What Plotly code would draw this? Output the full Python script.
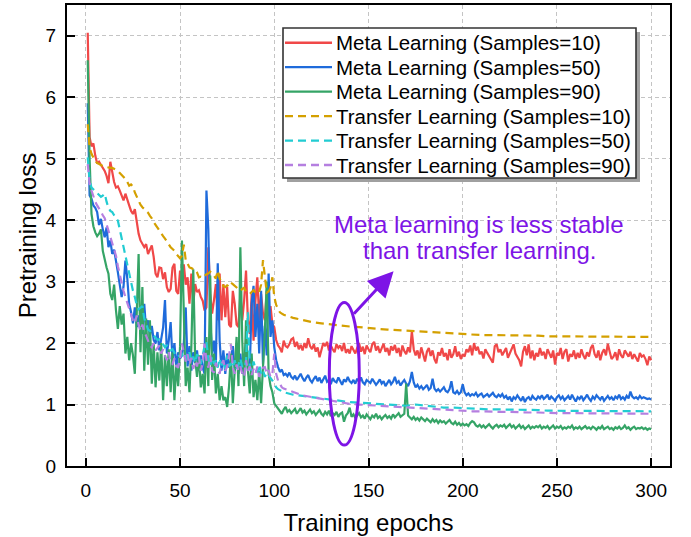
import plotly.graph_objects as go

# ---------------- data ----------------
epochs = list(range(1, 301))
tl_epochs = list(range(1, 105)) + list(range(105, 301, 5))

meta10 = [
    7.05, 5.35, 5.2, 5.25, 5.05, 4.92, 4.95, 4.9, 4.86, 4.8,
    4.72, 4.6, 4.95, 4.75, 4.62, 4.53, 4.55, 4.48, 4.38, 4.32,
    4.43, 4.35, 4.24, 4.15, 4.1, 4.18, 3.99, 3.78, 3.67, 3.6,
    3.56, 3.61, 3.45, 3.52, 3.59, 3.4, 3.13, 3.07, 3.23, 3.22,
    3.04, 3.15, 2.91, 2.83, 2.88, 3.23, 3.29, 2.85, 2.8, 3.18,
    2.91, 3.28, 2.95, 3.07, 2.64, 3.13, 2.64, 2.96, 2.83, 2.86,
    2.75, 2.69, 2.53, 2.58, 3.56, 2.8, 2.48, 2.7, 2.96, 2.37,
    3.13, 2.37, 2.96, 2.42, 2.91, 2.3, 2.26, 2.85, 2.64, 2.3,
    2.26, 2.8, 2.37, 2.69, 3.18, 2.37, 2.15, 2.8, 2.04, 2.69,
    3.07, 2.37, 2.8, 2.48, 2.37, 2.85, 2.48, 2.6, 2.31, 2.26,
    2.05, 1.96, 1.92, 1.85, 2.04, 1.95, 1.93, 1.98, 2.06, 2.08, 1.94, 2.02, 1.9, 1.97, 1.88, 2.0, 1.92, 2.08, 1.95, 1.9,
    1.98, 1.86, 1.93, 1.77, 1.9, 2.0, 1.95, 2.02, 1.88, 1.96, 1.9, 1.85, 1.98, 1.92, 1.96, 1.87, 2.0, 1.84, 1.9, 1.83,
    1.95, 1.88, 1.83, 1.92, 2.0, 1.86, 1.94, 1.82, 1.96, 1.9, 1.85, 1.98, 2.02, 1.88, 1.95, 1.84, 1.93, 1.99, 1.86, 1.92,
    1.8, 1.95, 1.88, 1.97, 1.84, 1.92, 1.78, 1.96, 1.87, 1.82, 1.93, 1.85, 2.19, 1.9, 1.8, 1.88, 1.75, 1.93, 1.82, 1.7,
    1.86, 1.92, 1.79, 1.88, 1.74, 1.67, 1.85, 1.8, 1.92, 1.78, 1.84, 1.72, 1.9, 1.76, 1.82, 1.95, 1.78, 1.86, 1.74, 1.82,
    1.78, 1.9, 1.85, 1.96, 1.8, 2.0, 1.88, 1.94, 1.82, 1.86, 1.75, 1.9, 1.84, 1.78, 1.72, 1.68, 1.95, 1.98, 1.85, 1.9,
    1.8, 1.87, 1.92, 1.76, 1.84, 1.9, 1.98, 1.83, 1.78, 1.72, 1.62, 1.86, 1.95, 1.8, 1.98, 1.75, 1.88, 1.72, 1.84, 1.78,
    1.92, 1.8, 1.86, 1.74, 1.9, 1.82, 1.76, 1.88, 1.65, 1.84, 1.8, 1.92, 1.74, 1.86, 1.9, 1.7, 1.82, 1.78, 1.88, 1.74,
    1.84, 1.76, 1.9, 1.8, 1.74, 1.85, 1.78, 1.92, 1.97, 1.82, 1.76, 1.88, 1.72, 1.84, 1.9, 1.8, 1.99, 1.86, 1.74, 1.78,
    1.85, 1.72, 1.9, 1.8, 1.76, 1.88, 1.82, 1.78, 1.86, 1.74, 1.82, 1.76, 1.7, 1.84, 1.78, 1.8, 1.74, 1.64, 1.78, 1.72,
]

meta50 = [
    5.9, 4.4, 4.35, 4.24, 4.2, 4.13, 3.92, 4.02, 3.85, 3.72,
    3.88, 3.56, 3.67, 3.45, 3.52, 3.3, 3.15, 2.95, 2.75, 2.92,
    3.34, 3.05, 2.64, 2.5, 2.32, 2.58, 2.26, 2.45, 2.3, 2.15,
    2.64, 2.2, 2.37, 2.12, 2.28, 2.05, 1.99, 2.18, 1.88, 2.1,
    2.25, 2.7, 1.83, 2.04, 2.34, 1.72, 2.0, 1.61, 1.85, 1.75,
    1.8, 2.0, 2.58, 1.62, 1.95, 1.55, 1.85, 1.68, 1.88, 1.55,
    1.8, 1.6, 1.5, 4.48, 3.85, 2.37, 1.83, 2.04, 1.65, 3.3,
    2.04, 1.55, 1.88, 1.5, 1.83, 1.6, 1.72, 1.95, 1.55, 1.83,
    1.5, 1.83, 1.5, 1.72, 2.0, 1.55, 1.6, 2.64, 2.93, 2.1,
    2.64, 1.83, 2.85, 1.65, 2.28, 1.8, 3.13, 2.1, 2.37, 1.93,
    1.72, 1.61, 1.53, 1.57, 1.48, 1.5, 1.46, 1.52, 1.45, 1.42, 1.47, 1.4, 1.45, 1.5, 1.43, 1.38, 1.44, 1.48, 1.4, 1.36,
    1.42, 1.46, 1.38, 1.44, 1.35, 1.41, 1.47, 1.37, 1.4, 1.33, 1.43, 1.38, 1.36, 1.44, 1.39, 1.32, 1.41, 1.37, 1.45, 1.38,
    1.35, 1.4, 1.34, 1.42, 1.37, 1.44, 1.36, 1.33, 1.4, 1.37, 1.35, 1.42, 1.38, 1.32, 1.36, 1.41, 1.34, 1.38, 1.3, 1.36,
    1.4, 1.33, 1.37, 1.45, 1.35, 1.38, 1.31, 1.36, 1.4, 1.34, 1.3, 1.38, 1.53, 1.36, 1.28, 1.32, 1.26, 1.3, 1.25, 1.28,
    1.32, 1.24, 1.27, 1.42, 1.26, 1.22, 1.25, 1.21, 1.24, 1.28, 1.22, 1.2, 1.25, 1.38, 1.2, 1.18, 1.22, 1.17, 1.2, 1.33,
    1.2, 1.15, 1.18, 1.14, 1.17, 1.15, 1.19, 1.13, 1.16, 1.18, 1.12, 1.15, 1.17, 1.13, 1.16, 1.19, 1.14, 1.12, 1.16, 1.13,
    1.17, 1.11, 1.14, 1.08, 1.13, 1.05, 1.12, 1.09, 1.15, 1.1, 1.06, 1.13, 1.04, 1.1, 1.12, 1.07, 1.14, 1.1, 1.08, 1.13,
    1.1, 1.15, 1.09, 1.12, 1.16, 1.08, 1.13, 1.1, 1.06, 1.12, 1.15, 1.09, 1.13, 1.07, 1.11, 1.14, 1.08, 1.16, 1.1, 1.05,
    1.12, 1.09, 1.14, 1.07, 1.11, 1.16, 1.1, 1.06, 1.13, 1.09, 1.15, 1.11, 1.08, 1.13, 1.06, 1.1, 1.14, 1.09, 1.12, 1.07,
    1.13, 1.1, 1.16, 1.09, 1.12, 1.08, 1.14, 1.1, 1.21, 1.13, 1.1, 1.12, 1.09, 1.14, 1.1, 1.12, 1.11, 1.09, 1.1, 1.08,
]

meta90 = [
    6.6, 5.0, 4.1, 3.9, 3.8, 3.74, 3.78, 3.85, 3.5, 3.34,
    3.23, 3.13, 2.8, 2.7, 2.95, 2.53, 2.23, 2.6, 2.3, 2.48,
    1.83, 2.1, 1.72, 2.0, 1.8, 1.5, 2.64, 3.45, 1.85, 2.91,
    1.55, 2.4, 1.65, 2.37, 1.34, 2.0, 1.28, 1.85, 1.39, 2.0,
    1.07, 1.8, 1.3, 1.9, 1.2, 1.85, 1.07, 1.65, 1.3, 1.95,
    3.67, 2.2, 1.3, 1.6, 1.2, 1.95, 3.2, 1.75, 1.45, 1.8,
    1.28, 1.5, 1.18, 2.1, 1.3, 3.1, 1.4, 1.83, 1.18, 1.5,
    1.07, 1.3, 1.07, 1.12, 0.96, 1.3, 1.83, 1.02, 1.55, 2.1,
    1.3, 3.56, 2.05, 1.3, 2.37, 1.55, 1.18, 1.83, 1.12, 1.4,
    1.07, 1.55, 1.02, 1.6, 2.2, 3.0, 1.5, 1.3, 1.2, 1.02,
    0.98, 0.93, 0.9, 0.85, 0.92, 0.96, 0.88, 0.91, 0.86, 0.9, 0.93, 0.85, 0.89, 0.94, 0.87, 0.9, 0.84, 0.88, 0.92, 0.86,
    0.89, 0.83, 0.87, 0.91, 0.85, 0.82, 0.88, 0.84, 0.9, 0.81, 0.86, 0.83, 0.88, 0.8, 0.85, 0.87, 0.72, 0.82, 0.86, 0.95,
    0.8, 0.84, 0.78, 0.83, 0.86, 0.79, 0.82, 0.77, 0.84, 0.8, 0.76, 0.82, 0.79, 0.85, 0.78, 0.81, 0.76, 0.8, 0.83, 0.78,
    0.81, 0.77, 0.84, 0.79, 0.82, 0.86, 0.8, 0.83, 0.85, 1.34, 0.82, 0.79, 0.76, 0.8, 0.75, 0.78, 0.74, 0.79, 0.76, 0.73,
    0.77, 0.74, 0.71, 0.76, 0.72, 0.75, 0.7, 0.74, 0.71, 0.73, 0.69, 0.72, 0.75, 0.7, 0.68, 0.72, 0.67, 0.7, 0.66, 0.69,
    0.66, 0.68, 0.65, 0.7, 0.73, 0.71, 0.66, 0.64, 0.67, 0.63, 0.66, 0.62, 0.65, 0.68, 0.64, 0.61, 0.65, 0.67, 0.63, 0.66,
    0.64, 0.67, 0.62, 0.65, 0.68, 0.63, 0.66, 0.61, 0.64, 0.67, 0.62, 0.65, 0.6, 0.63, 0.66, 0.61, 0.64, 0.62, 0.65, 0.63,
    0.66, 0.61, 0.64, 0.62, 0.65, 0.6, 0.63, 0.66, 0.61, 0.64, 0.62, 0.65, 0.6, 0.63, 0.61, 0.64, 0.62, 0.66, 0.6, 0.63,
    0.61, 0.64, 0.6, 0.63, 0.65, 0.61, 0.63, 0.6, 0.64, 0.62, 0.59, 0.63, 0.61, 0.65, 0.6, 0.62, 0.64, 0.6, 0.62, 0.59,
    0.63, 0.61, 0.64, 0.6, 0.62, 0.66, 0.61, 0.63, 0.59, 0.62, 0.64, 0.6, 0.62, 0.61, 0.63, 0.6, 0.62, 0.59, 0.61, 0.6,
]

transfer10 = [
    5.56, 5.18, 5.08, 5.02, 4.96, 4.93, 4.91, 4.9, 4.88, 4.87,
    4.86, 4.86, 4.85, 4.85, 4.84, 4.82, 4.8, 4.77, 4.74, 4.7,
    4.67, 4.62, 4.56, 4.58, 4.55, 4.45, 4.38, 4.3, 4.25, 4.21,
    4.18, 4.15, 4.12, 4.07, 4.03, 3.97, 3.92, 3.88, 3.83, 3.78,
    3.74, 3.7, 3.65, 3.6, 3.56, 3.53, 3.5, 3.45, 3.42, 3.38,
    3.42, 3.6, 3.35, 3.28, 3.23, 3.22, 3.2, 3.2, 3.15, 3.07,
    3.08, 3.06, 3.1, 3.12, 3.13, 3.16, 3.14, 3.1, 3.05, 3.18,
    3.05, 3.0, 2.93, 2.91, 2.94, 2.92, 2.98, 2.96, 2.93, 2.9,
    2.88, 2.85, 2.88, 2.9, 2.84, 2.82, 2.8, 2.83, 2.86, 2.82,
    2.8, 2.83, 2.95, 3.35, 3.05, 2.82, 2.84, 2.9, 3.07, 2.75,
    2.62, 2.55, 2.5, 2.48,
    2.46, 2.41, 2.37, 2.34, 2.32, 2.3, 2.29, 2.27, 2.26, 2.24,
    2.23, 2.22, 2.21, 2.2, 2.19, 2.18, 2.17, 2.16, 2.15, 2.14,
    2.14, 2.13, 2.13, 2.13, 2.12, 2.12, 2.12, 2.12, 2.11, 2.11,
    2.11, 2.11, 2.11, 2.11, 2.1, 2.1, 2.1, 2.1, 2.1, 2.1,
]

transfer50 = [
    5.02, 4.64, 4.53, 4.5, 4.48, 4.45, 4.42, 4.38, 4.4, 4.43,
    4.3, 4.2, 4.15, 4.13, 4.08, 4.04, 3.99, 3.85, 3.7, 3.56,
    3.42, 3.3, 3.15, 3.0, 2.85, 2.75, 2.62, 2.55, 2.58, 2.6,
    2.4, 2.3, 2.22, 2.2, 2.16, 2.14, 2.1, 2.05, 2.06, 2.0,
    1.98, 1.93, 1.96, 1.9, 1.88, 1.9, 1.84, 1.86, 1.8, 1.78,
    1.82, 1.75, 1.8, 1.72, 1.85, 1.7, 1.78, 1.68, 1.82, 1.72,
    1.66, 1.8, 1.95, 2.02, 1.75, 1.62, 1.78, 1.66, 1.72, 1.6,
    1.75, 1.64, 1.7, 1.58, 1.8, 1.62, 1.66, 1.6, 1.72, 1.58,
    1.65, 1.75, 1.6, 1.6, 1.7, 2.5, 1.62, 1.55, 1.7, 1.58,
    1.52, 1.65, 1.5, 1.56, 1.45, 1.52, 1.48, 1.45, 1.39, 1.34,
    1.28, 1.25, 1.23, 1.21,
    1.2, 1.16, 1.14, 1.12, 1.1, 1.07, 1.05, 1.04, 1.03, 1.02,
    1.01, 1.0, 0.99, 0.98, 1.0, 0.98, 0.96, 0.95, 0.95, 0.94,
    0.93, 0.93, 0.92, 0.92, 0.92, 0.91, 0.91, 0.91, 0.9, 0.9,
    0.9, 0.9, 0.9, 0.89, 0.89, 0.89, 0.89, 0.89, 0.89, 0.89,
]

transfer90 = [
    4.91, 4.6, 4.48, 4.38, 4.3, 4.24, 4.2, 4.14, 4.08, 4.03,
    3.93, 3.83, 3.72, 3.6, 3.5, 3.42, 3.25, 3.1, 2.98, 2.85,
    2.75, 2.66, 2.55, 2.45, 2.37, 2.32, 2.45, 2.3, 2.2, 2.3,
    2.18, 2.12, 2.04, 1.96, 1.93, 2.0, 1.88, 1.92, 1.96, 1.83,
    1.9, 1.8, 1.72, 1.85, 1.68, 1.66, 1.75, 1.62, 1.61, 1.75,
    1.99, 1.85, 1.7, 1.82, 1.65, 1.76, 1.58, 1.7, 1.62, 1.78,
    1.55, 1.66, 1.99, 1.72, 1.6, 1.8, 1.55, 1.52, 1.68, 1.58,
    1.5, 1.65, 1.72, 1.55, 1.62, 1.8, 1.98, 1.6, 1.5, 1.65,
    1.55, 1.62, 1.5, 1.45, 1.72, 1.55, 1.62, 1.48, 1.58, 1.5,
    1.62, 1.45, 1.55, 1.6, 1.61, 1.5, 1.56, 1.45, 1.5, 1.83,
    1.5, 1.39, 1.33, 1.28,
    1.26, 1.2, 1.15, 1.12, 1.09, 1.06, 1.03, 1.01, 1.0, 0.99,
    0.98, 0.97, 0.96, 0.95, 0.94, 0.93, 0.92, 0.92, 0.91, 0.9,
    0.89, 0.89, 0.88, 0.88, 0.88, 0.87, 0.87, 0.87, 0.86, 0.86,
    0.86, 0.86, 0.86, 0.85, 0.85, 0.85, 0.85, 0.85, 0.85, 0.85,
]

series_names = [
    "Meta Learning (Samples=10)", "Meta Learning (Samples=50)", "Meta Learning (Samples=90)",
    "Transfer Learning (Samples=10)", "Transfer Learning (Samples=50)", "Transfer Learning (Samples=90)",
]
x_ticks = [0, 50, 100, 150, 200, 250, 300]
y_ticks = [0, 1, 2, 3, 4, 5, 6, 7]
note_lines = ["Meta learning is less stable", "than transfer learning."]

for s in (meta10, meta50, meta90):
    assert len(s) == len(epochs), len(s)
for s in (transfer10, transfer50, transfer90):
    assert len(s) == len(tl_epochs), len(s)

# ---------------- figure ----------------
colors = ["#F04848", "#1F6BDB", "#35A466", "#D4A000", "#22CCD2", "#B57FE0"]
dashes = ["solid", "solid", "solid", "8px,5px", "8px,5px", "8px,5px"]
PURPLE = "#7D14E6"
FONT = "Arial, Liberation Sans, Helvetica, sans-serif"

fig = go.Figure()
all_x = [epochs, epochs, epochs, tl_epochs, tl_epochs, tl_epochs]
all_y = [meta10, meta50, meta90, transfer10, transfer50, transfer90]
for name, xs, ys, c, d in zip(series_names, all_x, all_y, colors, dashes):
    fig.add_trace(go.Scatter(x=xs, y=ys, mode="lines", name=name, showlegend=False,
                             line=dict(color=c, width=2.2, dash=d)))

# layout geometry (pixels)
L, R, T, B = 67, 21, 5, 71
W, H = 691, 537
pw, ph = W - L - R, H - T - B

def px_x(p):
    return (p - L) / pw

def px_y(p):
    return (H - B - p) / ph

fig.update_layout(
    width=W, height=H,
    margin=dict(l=L, r=R, t=T, b=B),
    plot_bgcolor="white", paper_bgcolor="white",
    font=dict(family=FONT, color="black"),
    showlegend=False,
)

axis_common = dict(
    showline=True, linewidth=2, linecolor="black", mirror=True,
    ticks="inside", ticklen=8, tickwidth=2, tickcolor="black",
    showgrid=True, gridcolor="#C4C4C4", gridwidth=1, griddash="4px,3px",
    zeroline=False, tickfont=dict(size=19, family=FONT, color="black"),
    automargin=False,
)
fig.update_xaxes(range=[-10, 310], tickmode="array", tickvals=x_ticks,
                 ticktext=[str(v) for v in x_ticks], ticklabelstandoff=6,
                 title=dict(text="Training epochs", font=dict(size=24, family=FONT), standoff=14),
                 **axis_common)
fig.update_yaxes(range=[0, 7.5], tickmode="array", tickvals=y_ticks,
                 ticktext=[str(v) for v in y_ticks], ticklabelstandoff=5,
                 title=dict(text="Pretraining loss", font=dict(size=24, family=FONT), standoff=2),
                 **axis_common)

# ---- legend box (drawn with shapes + text) ----
LEG_L, LEG_R, LEG_T, LEG_B = 283, 636, 28, 178
fig.add_shape(type="rect", xref="paper", yref="paper", layer="above",
              x0=px_x(LEG_L + 4), x1=px_x(LEG_R + 4), y0=px_y(LEG_B + 4), y1=px_y(LEG_T + 4),
              fillcolor="#A0A0A0", line=dict(width=0))
fig.add_shape(type="rect", xref="paper", yref="paper", layer="above",
              x0=px_x(LEG_L), x1=px_x(LEG_R), y0=px_y(LEG_B), y1=px_y(LEG_T),
              fillcolor="white", line=dict(color="#333333", width=1.6))
row0, row_gap = 42.7, 24.47
for i, (name, c, d) in enumerate(zip(series_names, colors, dashes)):
    yc = px_y(row0 + row_gap * i)
    fig.add_shape(type="line", xref="paper", yref="paper", layer="above",
                  x0=px_x(285), x1=px_x(332), y0=yc, y1=yc,
                  line=dict(color=c, width=2.4, dash=d))
    fig.add_annotation(x=px_x(333.5), y=yc, xref="paper", yref="paper", text=name,
                       showarrow=False, xanchor="left", yanchor="middle",
                       font=dict(size=20.5, family=FONT, color="black"))

# ellipse highlighting the region
fig.add_shape(type="circle", xref="x", yref="y", x0=129.2, x1=145.1, y0=0.34, y1=2.66,
              line=dict(color=PURPLE, width=3))

# annotation text
fig.add_annotation(x=208.5, y=3.93, xref="x", yref="y", text=note_lines[0], showarrow=False,
                   xanchor="center", yanchor="middle", font=dict(size=24, color=PURPLE, family=FONT))
fig.add_annotation(x=209.0, y=3.5, xref="x", yref="y", text=note_lines[1], showarrow=False,
                   xanchor="center", yanchor="middle", font=dict(size=24, color=PURPLE, family=FONT))
# arrow
fig.add_annotation(x=163.3, y=3.17, xref="x", yref="y", ax=-41, ay=44, text="",
                   showarrow=True, arrowhead=2, arrowsize=1.7, arrowwidth=3, arrowcolor=PURPLE,
                   standoff=0, startstandoff=0)

# remove the default 8px page margin so the figure fills the window exactly
fig.write_html("out.html", config={"displayModeBar": False},
               post_script="document.body.style.margin='0px';")
